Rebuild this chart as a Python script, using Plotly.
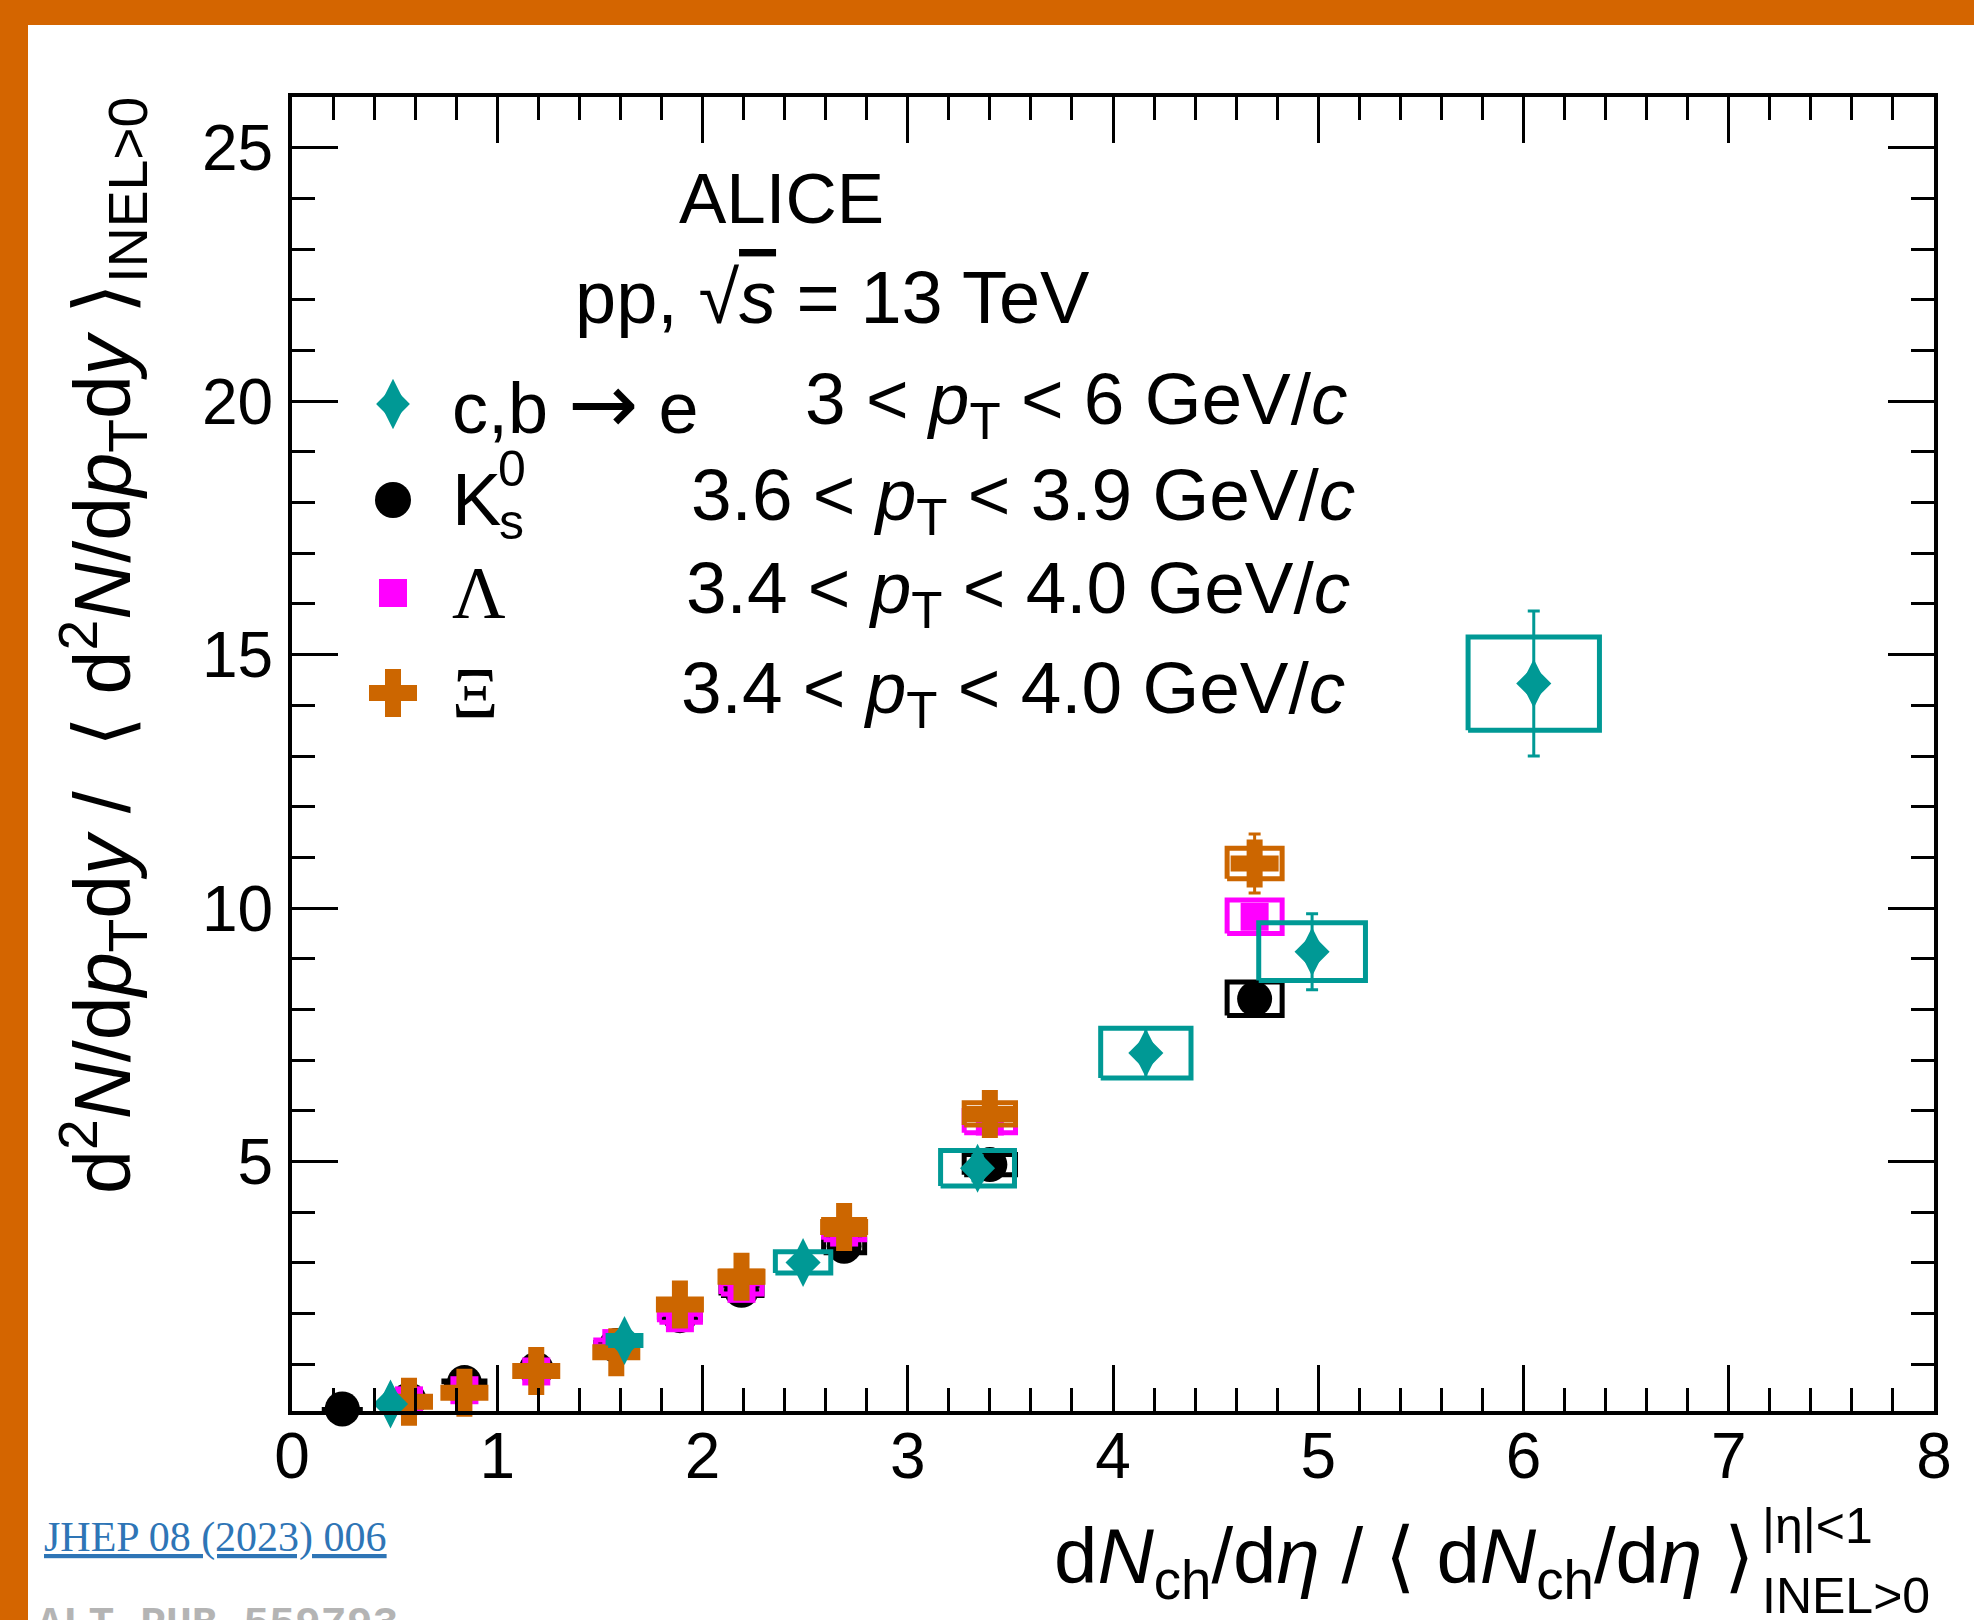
import plotly.graph_objects as go

# ---------------- data ----------------
# charged-particle multiplicity classes (x) for strange hadrons
x_strange = [0.245, 0.57, 0.84, 1.19, 1.58, 1.89, 2.19, 2.69, 3.40, 4.69]
k0s_y = [0.12, 0.30, 0.64, 0.90, 1.37, 1.96, 2.46, 3.33, 4.94, 8.21]
k0s_stat = [0.01, 0.01, 0.02, 0.02, 0.03, 0.04, 0.05, 0.06, 0.08, 0.12]
k0s_sys = [0.01, 0.02, 0.03, 0.04, 0.06, 0.08, 0.10, 0.13, 0.20, 0.33]
k0s_sys_x = [0.10, 0.10, 0.10, 0.10, 0.10, 0.10, 0.10, 0.10, 0.125, 0.134]

x_lam = [0.57, 0.84, 1.19, 1.58, 1.89, 2.19, 2.69, 3.40, 4.69]
lam_y = [0.29, 0.49, 0.86, 1.42, 1.91, 2.49, 3.60, 5.79, 9.83]
lam_stat = [0.01, 0.02, 0.03, 0.04, 0.05, 0.06, 0.08, 0.10, 0.15]
lam_sys = [0.02, 0.03, 0.04, 0.06, 0.08, 0.10, 0.14, 0.22, 0.33]
lam_sys_x = [0.10, 0.10, 0.10, 0.10, 0.10, 0.10, 0.10, 0.125, 0.134]

x_xi = [0.57, 0.84, 1.19, 1.58, 1.89, 2.19, 2.69, 3.40, 4.69]
xi_y = [0.26, 0.44, 0.87, 1.24, 2.18, 2.73, 3.71, 5.94, 10.88]
xi_stat = [0.02, 0.03, 0.05, 0.07, 0.10, 0.13, 0.18, 0.30, 0.58]
xi_sys = [0.02, 0.03, 0.04, 0.06, 0.09, 0.11, 0.15, 0.22, 0.30]
xi_sys_x = [0.10, 0.10, 0.10, 0.10, 0.10, 0.10, 0.10, 0.125, 0.134]

x_hfe = [0.48, 1.62, 2.49, 3.34, 4.16, 4.97, 6.05]
hfe_y = [0.22, 1.47, 3.01, 4.87, 7.14, 9.14, 14.43]
hfe_stat = [0.02, 0.06, 0.10, 0.25, 0.50, 0.75, 1.43]
hfe_sys_y = [0.02, 0.10, 0.21, 0.35, 0.49, 0.57, 0.92]
hfe_sys_x = [0.03, 0.08, 0.135, 0.18, 0.22, 0.26, 0.32]

x_ticks = [0, 1, 2, 3, 4, 5, 6, 7, 8]
y_ticks = [5, 10, 15, 20, 25]

legend_ranges = [
    "3 &lt; <i>p</i><sub>T</sub> &lt; 6 GeV/<i>c</i>",
    "3.6 &lt; <i>p</i><sub>T</sub> &lt; 3.9 GeV/<i>c</i>",
    "3.4 &lt; <i>p</i><sub>T</sub> &lt; 4.0 GeV/<i>c</i>",
    "3.4 &lt; <i>p</i><sub>T</sub> &lt; 4.0 GeV/<i>c</i>",
]

# ---------------- style ----------------
W, H = 1974, 1620
L, R, T, B = 292, 1934, 97, 1411  # plot frame in pixels
SANS = "Liberation Sans, Arial, Helvetica, sans-serif"
SERIF = "Liberation Serif, Times New Roman, serif"
MONO = "Liberation Mono, Courier New, monospace"
TEAL = "#009995"
ORANGE = "#CC6600"
MAGENTA = "#FF00FF"
BLACK = "#000000"
BORDER = "#D46500"


def px(xp):
    return (xp - L) / (R - L)


def py(yp):
    return (B - yp) / (B - T)


def boxes(xs, ys, dxs, dys):
    bx, by = [], []
    for x, y, dx, dy in zip(xs, ys, dxs, dys):
        bx += [x - dx, x + dx, x + dx, x - dx, x - dx, None]
        by += [y - dy, y - dy, y + dy, y + dy, y - dy, None]
    return bx, by


fig = go.Figure()


def add_species(xs, ys, stat, dxs, dys, color, symbol, size):
    bx, by = boxes(xs, ys, dxs, dys)
    fig.add_trace(go.Scatter(x=bx, y=by, mode="lines",
                             line=dict(color=color, width=5),
                             hoverinfo="skip", showlegend=False))
    fig.add_trace(go.Scatter(x=xs, y=ys, mode="markers", cliponaxis=False,
                             marker=dict(symbol=symbol, size=size, color=color,
                                         line=dict(width=0)),
                             error_y=dict(type="data", array=stat, color=color,
                                          thickness=3, width=6),
                             showlegend=False))


add_species(x_strange, k0s_y, k0s_stat, k0s_sys_x, k0s_sys, BLACK, "circle", 35)
add_species(x_lam, lam_y, lam_stat, lam_sys_x, lam_sys, MAGENTA, "square", 28)
add_species(x_xi, xi_y, xi_stat, xi_sys_x, xi_sys, ORANGE, "cross", 40)
add_species(x_hfe, hfe_y, hfe_stat, hfe_sys_x, hfe_sys_y, TEAL, "diamond-tall", 35)
fig.add_trace(go.Scatter(x=x_hfe, y=hfe_y, mode="markers", cliponaxis=False,
                         marker=dict(symbol="diamond", size=27, color=TEAL,
                                     line=dict(width=0)),
                         showlegend=False))

# ---------------- legend (manual, on an overlay unit axis) ----------------
leg_x = px(393)
leg_rows = [py(404), py(500), py(593), py(693)]
leg_syms = [("diamond-tall", 36, TEAL), ("circle", 36, BLACK),
            ("square", 28, MAGENTA), ("cross", 40, ORANGE)]
for (sym, sz, col), yy in zip(leg_syms, leg_rows):
    fig.add_trace(go.Scatter(x=[leg_x], y=[yy], xaxis="x2", yaxis="y2",
                             mode="markers", cliponaxis=False,
                             marker=dict(symbol=sym, size=sz, color=col,
                                         line=dict(width=0)),
                             showlegend=False, hoverinfo="skip"))
fig.add_trace(go.Scatter(x=[leg_x], y=[leg_rows[0]], xaxis="x2", yaxis="y2",
                         mode="markers", cliponaxis=False,
                         marker=dict(symbol="diamond", size=26, color=TEAL,
                                     line=dict(width=0)),
                         showlegend=False, hoverinfo="skip"))

ann = []


def text(x, y, t, size, family=SANS, color="black", xanchor="left",
         yanchor="middle", angle=0):
    ann.append(dict(x=x, y=y, xref="paper", yref="paper", text=t,
                    showarrow=False, xanchor=xanchor, yanchor=yanchor,
                    textangle=angle, font=dict(size=size, family=family,
                                               color=color)))


# header
text(px(781), py(198), "ALICE", 71, xanchor="center")
text(px(832), py(297),
     "pp, \u221a<span style=\"text-decoration:overline\"><i>s</i></span> = 13 TeV",
     74, xanchor="center")

# legend text
name_x = px(450)
text(name_x, leg_rows[0],
     "c,b <span style=\"font-family:DejaVu Sans;font-size:84px\">\u2192</span> e", 72)
text(name_x, leg_rows[1], "K", 74)
text(px(512), py(469), "0", 50, xanchor="center")
text(px(511), py(522), "s", 50, xanchor="center")
text(name_x, leg_rows[2], "\u039b", 74, family=SERIF)
text(px(450), leg_rows[3], "\u039e", 72, family=SERIF)
range_x = [px(803), px(689), px(684), px(679)]
for rx, yy, rt in zip(range_x, leg_rows, legend_ranges):
    text(rx, yy, rt, 73)

# axis titles
text(px(1756), py(1561),
     "d<i>N</i><sub>ch</sub>/d<i>\u03b7</i> / \u27e8 d<i>N</i><sub>ch</sub>/d<i>\u03b7</i> \u27e9",
     78, xanchor="right")
text(px(1760), py(1526), "|\u03b7|&lt;1", 50)
text(px(1760), py(1596), "INEL&gt;0", 50)
text(px(103), py(646),
     "d<sup>2</sup><i>N</i>/d<i>p</i><sub>T</sub>d<i>y</i> /  \u27e8 d<sup>2</sup><i>N</i>/d<i>p</i><sub>T</sub>d<i>y</i> \u27e9<sub>INEL&gt;0</sub>",
     79, xanchor="center", angle=-90)

# publication references
text(px(42), py(1537), "<u>JHEP 08 (2023) 006</u>", 42, family=SERIF,
     color="#2E75B6")
text(px(35), py(1598), "<b>ALT-PUB-559793</b>", 43, family=MONO,
     color="#B4B4B4", yanchor="top")

shapes = [
    dict(type="rect", xref="paper", yref="paper", x0=px(0), x1=px(W),
         y0=py(0), y1=py(25), fillcolor=BORDER, line=dict(width=0)),
    dict(type="rect", xref="paper", yref="paper", x0=px(0), x1=px(28),
         y0=py(0), y1=py(H), fillcolor=BORDER, line=dict(width=0)),
]

axis_common = dict(
    showgrid=False, zeroline=False, showline=True, linecolor="black",
    linewidth=4, mirror="allticks", ticks="inside", ticklen=46, tickwidth=3,
    tickcolor="black", tickfont=dict(size=64, family=SANS, color="black"),
)

fig.update_layout(
    width=W, height=H,
    margin=dict(l=L, r=W - R, t=T, b=H - B, pad=0),
    paper_bgcolor="white", plot_bgcolor="white",
    showlegend=False,
    xaxis=dict(range=[0, 8], tickmode="array", tickvals=x_ticks,
               ticktext=[str(v) for v in x_ticks], ticklabelstandoff=-14,
               minor=dict(ticks="inside", dtick=0.2, tick0=0, ticklen=23,
                          tickwidth=3, tickcolor="black"),
               **axis_common),
    yaxis=dict(range=[0.08, 26], tickmode="array", tickvals=y_ticks,
               ticktext=[str(v) for v in y_ticks], ticklabelstandoff=2,
               minor=dict(ticks="inside", dtick=1, tick0=0, ticklen=23,
                          tickwidth=3, tickcolor="black"),
               **axis_common),
    xaxis2=dict(range=[0, 1], overlaying="x", anchor="y2", visible=False),
    yaxis2=dict(range=[0, 1], overlaying="y", anchor="x2", visible=False),
    annotations=ann,
    shapes=shapes,
)

fig.write_html(
    "out.html",
    config={"displayModeBar": False},
    post_script="document.body.style.margin='0';document.body.style.overflow='hidden';",
)
